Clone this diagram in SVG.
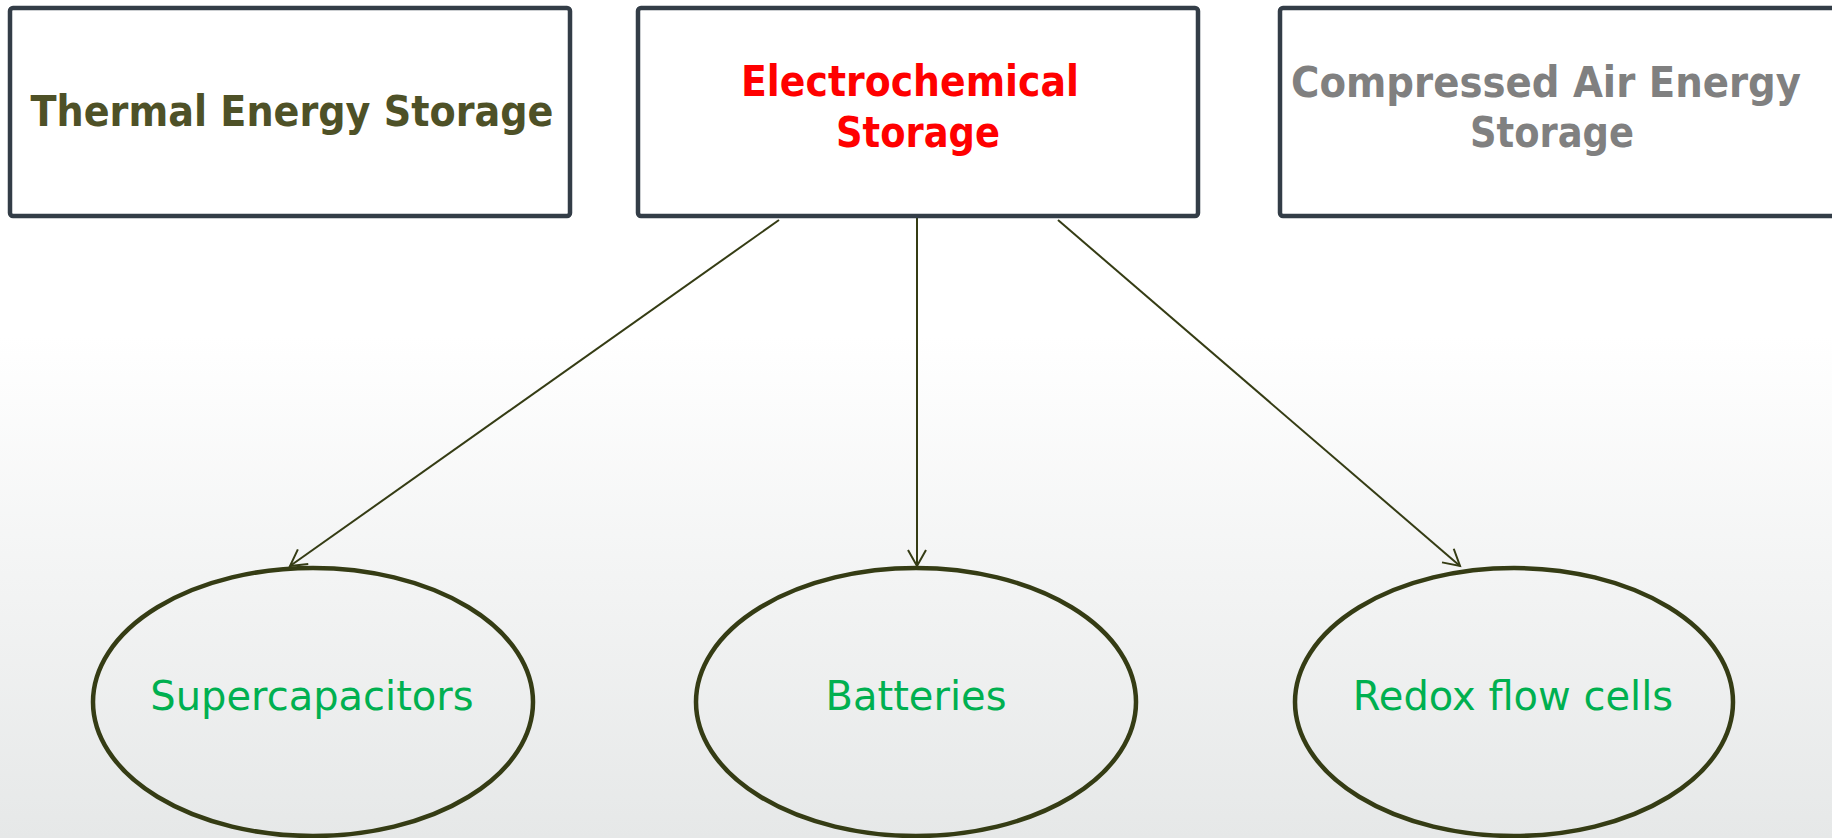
<svg xmlns="http://www.w3.org/2000/svg" width="1832" height="838" viewBox="0 0 1832 838">
<defs>
<linearGradient id="bg" x1="0" y1="0" x2="0" y2="1">
<stop offset="0" stop-color="#ffffff"/>
<stop offset="0.4" stop-color="#ffffff"/>
<stop offset="1" stop-color="#e6e8e8"/>
</linearGradient>
<marker id="arr" markerUnits="userSpaceOnUse" markerWidth="40" markerHeight="40" refX="0" refY="0" orient="auto" overflow="visible">
<path d="M-16,-9 L0,0 L-16,9" fill="none" stroke="#353c14" stroke-width="2"/>
</marker>
<style>
.box{fill:#ffffff;stroke:#333d47;stroke-width:4.5}
.ell{fill:none;stroke:#353c14;stroke-width:4.5}
.conn{stroke:#353c14;stroke-width:2;fill:none;marker-end:url(#arr)}
.bt{font-family:"DejaVu Sans","Liberation Sans",sans-serif;font-weight:bold;font-size:43px;text-anchor:middle}
.et{font-family:"DejaVu Sans","Liberation Sans",sans-serif;font-size:40px;fill:#00b050;text-anchor:middle}
</style>
</defs>
<rect x="0" y="0" width="1832" height="838" fill="url(#bg)"/>
<g id="connectors">
<line class="conn" x1="779" y1="220" x2="290" y2="566"/>
<line class="conn" x1="917" y1="218" x2="917" y2="566"/>
<line class="conn" x1="1058" y1="220" x2="1460" y2="566"/>
</g>
<g id="thermal">
<rect class="box" x="10" y="8" width="560" height="208" rx="3"/>
<text class="bt" x="292" y="126" fill="#4e5127" textLength="523" lengthAdjust="spacingAndGlyphs">Thermal Energy Storage</text>
</g>
<g id="electrochemical">
<rect class="box" x="638" y="8" width="560" height="208" rx="3"/>
<text class="bt" x="910" y="96" fill="#ff0000" textLength="338" lengthAdjust="spacingAndGlyphs">Electrochemical</text>
<text class="bt" x="918" y="147" fill="#ff0000" textLength="164" lengthAdjust="spacingAndGlyphs">Storage</text>
</g>
<g id="compressed">
<rect class="box" x="1280" y="8" width="560" height="208" rx="3"/>
<text class="bt" x="1546" y="97" fill="#808080" textLength="510" lengthAdjust="spacingAndGlyphs">Compressed Air Energy</text>
<text class="bt" x="1552" y="147" fill="#808080" textLength="164" lengthAdjust="spacingAndGlyphs">Storage</text>
</g>
<g id="supercapacitors">
<ellipse class="ell" cx="313" cy="702" rx="220" ry="134"/>
<text class="et" x="312" y="710">Supercapacitors</text>
</g>
<g id="batteries">
<ellipse class="ell" cx="916" cy="702" rx="220" ry="134"/>
<text class="et" x="916" y="710">Batteries</text>
</g>
<g id="redox">
<ellipse class="ell" cx="1514" cy="702" rx="219" ry="134"/>
<text class="et" x="1513" y="710">Redox flow cells</text>
</g>
</svg>
